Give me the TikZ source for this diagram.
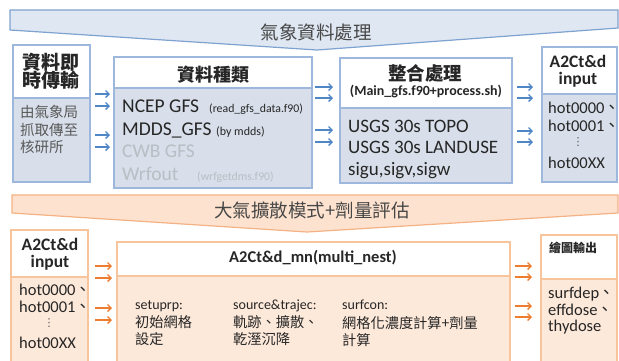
\documentclass[tikz,border=0pt]{standalone}
\usepackage{fontspec}
\setmainfont{Carlito}
\newfontfamily\cjk{Noto Sans CJK TC}
\newfontfamily\dvs{DejaVu Sans}
\usetikzlibrary{arrows.meta}
\definecolor{bBorder}{HTML}{9DB8DC}
\definecolor{bBody}{HTML}{D8DFEA}
\definecolor{bBanFill}{HTML}{DEE7F2}
\definecolor{bBanLine}{HTML}{7FA3D0}
\definecolor{bArrow}{HTML}{4F86C6}
\definecolor{oBorder}{HTML}{F8C49C}
\definecolor{oBody}{HTML}{FDE9DA}
\definecolor{oBanFill}{HTML}{FDE3CF}
\definecolor{oBanLine}{HTML}{F4B183}
\definecolor{oArrow}{HTML}{ED7D31}
\definecolor{txt}{HTML}{262626}
\definecolor{gtxt}{HTML}{595959}
\definecolor{ltxt}{HTML}{B9BDC4}
\tikzset{
  boxshape/.style={rectangle, inner sep=0pt, outer sep=0pt, anchor=north west, line width=1.4pt},
  bhead/.style={boxshape, draw=bBorder, fill=white},
  bbody/.style={boxshape, draw=bBorder, fill=bBody},
  ohead/.style={boxshape, draw=oBorder, fill=white},
  obody/.style={boxshape, draw=oBorder, fill=oBody},
  arrB/.style={draw=bArrow, line width=1.3pt, -{Straight Barb[length=3.5pt,width=7pt]}},
  arrO/.style={draw=oArrow, line width=1.3pt, -{Straight Barb[length=3.5pt,width=7pt]}},
  tx/.style={inner sep=0pt, text=txt},
  fs/.style={font=\fontsize{#1}{#1}\selectfont},
}
\begin{document}
\begin{tikzpicture}[x=1pt,y=-1pt]
\useasboundingbox (0,0) rectangle (619,360);
\clip (0,0) rectangle (619,360);
% banners
\draw[fill=bBanFill, draw=bBanLine, line width=1.2pt] (10,10) -- (618,10) -- (618,28) -- (317,50) -- (10,30) -- cycle;
\node[tx, text=txt!85] (ban1) at (316,32) {\fontsize{18.5}{18.5}\selectfont\cjk 氣象資料處理};
\draw[fill=oBanFill, draw=oBanLine, line width=1.2pt] (12,195) -- (618,195) -- (618,213) -- (307,232) -- (12,213) -- cycle;
\node[tx, text=txt!85] (ban2) at (312,210) {\fontsize{18.5}{18.5}\selectfont\cjk 大氣擴散模式+劑量評估};

% top row boxes
\node[bhead, minimum width=77pt, minimum height=53pt] (b1h) at (13,45) {};
\node[bbody, minimum width=77pt, minimum height=84pt] (b1b) at (13,98) {};
\node[bhead, minimum width=198pt, minimum height=31pt] (b2h) at (114,57) {};
\node[bbody, minimum width=198pt, minimum height=100pt] (b2b) at (114,88) {};
\node[bhead, minimum width=172pt, minimum height=50pt] (b3h) at (340,58) {};
\node[bbody, minimum width=172pt, minimum height=75pt] (b3b) at (340,108) {};
\node[bhead, minimum width=75pt, minimum height=47pt] (b4h) at (542,47) {};
\node[bbody, minimum width=75pt, minimum height=88pt] (b4b) at (542,94) {};

% bottom row boxes
\node[ohead, minimum width=77pt, minimum height=47pt] (b5h) at (11,230) {};
\node[obody, minimum width=77pt, minimum height=95pt] (b5b) at (11,277) {};
\node[ohead, minimum width=393pt, minimum height=34pt] (b6h) at (117,242) {};
\node[obody, minimum width=393pt, minimum height=95pt] (b6b) at (117,276) {};
\node[ohead, minimum width=76pt, minimum height=44pt] (b7h) at (541,235) {};
\node[obody, minimum width=76pt, minimum height=95pt] (b7b) at (541,279) {};

% box 1 text
\node[tx, font=\fontsize{19}{19}\selectfont\cjk\bfseries] (t1a) at (51,62) {資料即};
\node[tx, font=\fontsize{19}{19}\selectfont\cjk\bfseries] (t1b) at (51,80.5) {時傳輸};
\node[tx, text=gtxt, anchor=west, font=\fontsize{14.5}{14.5}\selectfont\cjk] (t1c) at (20,112) {由氣象局};
\node[tx, text=gtxt, anchor=west, font=\fontsize{14.5}{14.5}\selectfont\cjk] (t1d) at (20,129.5) {抓取傳至};
\node[tx, text=gtxt, anchor=west, font=\fontsize{14.5}{14.5}\selectfont\cjk] (t1e) at (20,147) {核研所};

% box 2 text
\node[tx, font=\fontsize{18}{18}\selectfont\cjk\bfseries] (t2a) at (213,75) {資料種類};
\node[tx, anchor=base west, fs=19.5] (t2b) at (122,112.7) {NCEP GFS};
\node[tx, anchor=base west, fs=11.8] (t2b2) at (209,112.7) {(read\_gfs\_data.f90)};
\node[tx, anchor=base west, fs=19.5] (t2c) at (122,135) {MDDS\_GFS};
\node[tx, anchor=base west, fs=12] (t2c2) at (216,135) {(by mdds)};
\node[tx, text=ltxt, anchor=base west, fs=19.5] (t2d) at (122,157) {CWB GFS};
\node[tx, text=ltxt, anchor=base west, fs=19.5] (t2e) at (122,180) {Wrfout};
\node[tx, text=ltxt, anchor=base west, fs=11.8] (t2e2) at (197,180) {(wrfgetdms.f90)};

% box 3 text
\node[tx, font=\fontsize{18.5}{18.5}\selectfont\cjk\bfseries] (t3a) at (425,73) {整合處理};
\node[tx, font=\fontsize{14}{14}\selectfont\bfseries] (t3b) at (426,91) {(Main\_gfs.f90+process.sh)};
\node[tx, anchor=base west, fs=19] (t3c) at (348,132) {USGS 30s TOPO};
\node[tx, anchor=base west, fs=19] (t3d) at (348,153.5) {USGS 30s LANDUSE};
\node[tx, anchor=base west, fs=19] (t3e) at (348,175) {sigu,sigv,sigw};

% box 4 text
\node[tx, anchor=base, font=\fontsize{17.5}{17.5}\selectfont\bfseries] (t4a) at (578,67) {A2Ct\&d};
\node[tx, anchor=base, font=\fontsize{17.5}{17.5}\selectfont\bfseries] (t4b) at (578,84) {input};
\node[tx, anchor=base west, fs=16.5] (t4c) at (548,113) {hot0000{\cjk\kern-1pt 、}};
\node[tx, anchor=base west, fs=16.5] (t4d) at (548,131.7) {hot0001{\cjk\kern-1pt 、}};
\node[tx, text=gtxt, fs=11] (t4e) at (578,142) {\dvs ⋮};
\node[tx, anchor=base west, fs=16.5] (t4f) at (548,168) {hot00XX};

% box 5 text
\node[tx, anchor=base, font=\fontsize{17.5}{17.5}\selectfont\bfseries] (t5a) at (50,250) {A2Ct\&d};
\node[tx, anchor=base, font=\fontsize{17.5}{17.5}\selectfont\bfseries] (t5b) at (50,267) {input};
\node[tx, anchor=base west, fs=16.5] (t5c) at (19,295) {hot0000{\cjk\kern-1pt 、}};
\node[tx, anchor=base west, fs=16.5] (t5d) at (19,312.7) {hot0001{\cjk\kern-1pt 、}};
\node[tx, text=gtxt, fs=11] (t5e) at (49,323) {\dvs ⋮};
\node[tx, anchor=base west, fs=16.5] (t5f) at (19,348) {hot00XX};

% box 6 text
\node[tx, anchor=base, font=\fontsize{16.5}{16.5}\selectfont\bfseries] (t6a) at (313,262) {A2Ct\&d\_mn(multi\_nest)};
\node[tx, anchor=base west, fs=14] (t6b) at (135,309.3) {setuprp:};
\node[tx, anchor=west, font=\fontsize{14.2}{14.2}\selectfont\cjk] (t6c) at (135,322) {初始網格};
\node[tx, anchor=west, font=\fontsize{14.2}{14.2}\selectfont\cjk] (t6d) at (135,339) {設定};
\node[tx, anchor=base west, fs=14] (t6e) at (233,309.3) {source\&trajec:};
\node[tx, anchor=west, font=\fontsize{14.2}{14.2}\selectfont\cjk] (t6f) at (233,322) {軌跡、擴散、};
\node[tx, anchor=west, font=\fontsize{14.2}{14.2}\selectfont\cjk] (t6g) at (233,339) {乾溼沉降};
\node[tx, anchor=base west, fs=14] (t6h) at (342,309.3) {surfcon:};
\node[tx, anchor=west, font=\fontsize{14.2}{14.2}\selectfont\cjk] (t6i) at (342,323) {網格化濃度計算+劑量};
\node[tx, anchor=west, font=\fontsize{14.2}{14.2}\selectfont\cjk] (t6j) at (342,340) {計算};

% box 7 text
\node[tx, font=\fontsize{12}{12}\selectfont\cjk\bfseries] (t7a) at (573,248) {繪圖輸出};
\node[tx, anchor=base west, fs=16.5] (t7b) at (548,298) {surfdep{\cjk\kern-1pt 、}};
\node[tx, anchor=base west, fs=16.5] (t7c) at (548,315) {effdose{\cjk\kern-1pt 、}};
\node[tx, anchor=base west, fs=16.5] (t7d) at (548,331.7) {thydose};

% arrows top row
\foreach \yy in {94,106,135,147}
  \draw[arrB] ([xshift=5pt]b1h.east |- 0,\yy) -- ([xshift=-4pt]b2h.west |- 0,\yy);
\foreach \yy in {87,98,130,142}
  \draw[arrB] ([xshift=3pt]b2h.east |- 0,\yy) -- ([xshift=-7pt]b3h.west |- 0,\yy);
\foreach \yy in {87,98,131,142}
  \draw[arrB] ([xshift=5pt]b3h.east |- 0,\yy) -- ([xshift=-9pt]b4h.west |- 0,\yy);
% arrows bottom row
\foreach \yy in {266,278,308,320}
  \draw[arrO] ([xshift=7pt]b5h.east |- 0,\yy) -- ([xshift=-5pt]b6h.west |- 0,\yy);
\foreach \yy in {266,277,306,317}
  \draw[arrO] ([xshift=5pt]b6h.east |- 0,\yy) -- ([xshift=-9pt]b7h.west |- 0,\yy);
\end{tikzpicture}
\end{document}
